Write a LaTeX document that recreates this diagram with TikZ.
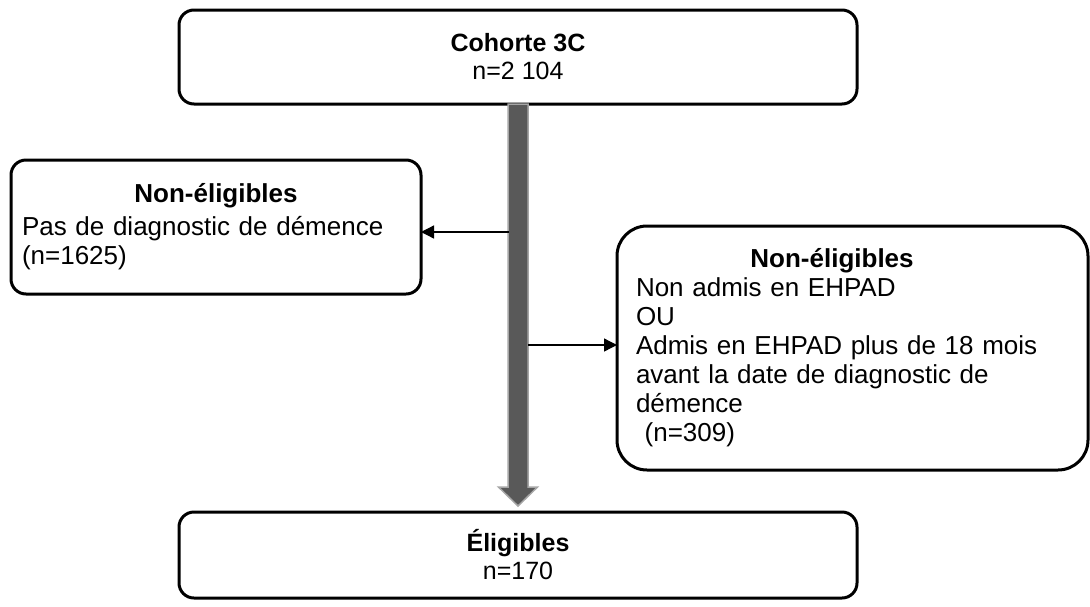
\documentclass[tikz,border=0pt]{standalone}
\usepackage{fontspec}
\setmainfont{Liberation Sans}
\usetikzlibrary{calc,arrows.meta}
\definecolor{shaftfill}{HTML}{595959}
\definecolor{shaftedge}{HTML}{A6A6A6}
\begin{document}
\begin{tikzpicture}[x=1pt,y=-1pt,
  box/.style={draw=black, line width=3pt, rounded corners=15pt, fill=white,
    inner sep=0pt, outer sep=0pt},
  mainbox/.style={box, align=center, font=\fontsize{25}{28}\selectfont},
  sidebox/.style={box, font=\fontsize{26}{29}\selectfont},
  thin/.style={line width=1.3pt, -{Triangle[length=13pt,width=13pt]}},
  bigarrow/.style={fill=shaftfill, draw=shaftedge, line width=1.5pt}]
\useasboundingbox (0,0) rectangle (1090,606);
\fill[white] (0,0) rectangle (1090,606);

\node[mainbox, minimum width=678pt, minimum height=94pt] (top) at (518,57)
  {\textbf{Cohorte 3C}\\n=2 104};
\node[mainbox, minimum width=678pt, minimum height=86pt] (bottom) at (518,555)
  {\textbf{Éligibles}\\n=170};
\node[sidebox, minimum width=410pt, minimum height=134pt, text width=388pt] (left) at (216,227)
  {{\centering\textbf{Non-éligibles}\par}\vspace{4pt}Pas de diagnostic de démence\par(n=1625)\par};
\node[sidebox, rounded corners=30pt, minimum width=471pt, minimum height=244pt, text width=433pt] (right) at (852.5,348)
  {\makebox[392pt][c]{\textbf{Non-éligibles}}\par Non admis en EHPAD\par OU\par Admis en EHPAD plus de 18 mois\par avant la date de diagnostic de\par démence\par\ (n=309)\par};

\coordinate (tip) at ($(bottom.north)+(0,-6)$);
\coordinate (hb) at ($(tip)+(0,-19)$);
\path[bigarrow] ($(top.south)+(-10,0)$) -- ($(hb)+(-10,0)$) -- ($(hb)+(-19.5,0)$) -- (tip)
  -- ($(hb)+(19.5,0)$) -- ($(hb)+(10,0)$) -- ($(top.south)+(10,0)$) -- cycle;

\coordinate (la) at (509,232);
\coordinate (ra) at (528,345);
\draw[thin] (la) -- (la -| left.east);
\draw[thin] (ra) -- (ra -| right.west);
\end{tikzpicture}
\end{document}
